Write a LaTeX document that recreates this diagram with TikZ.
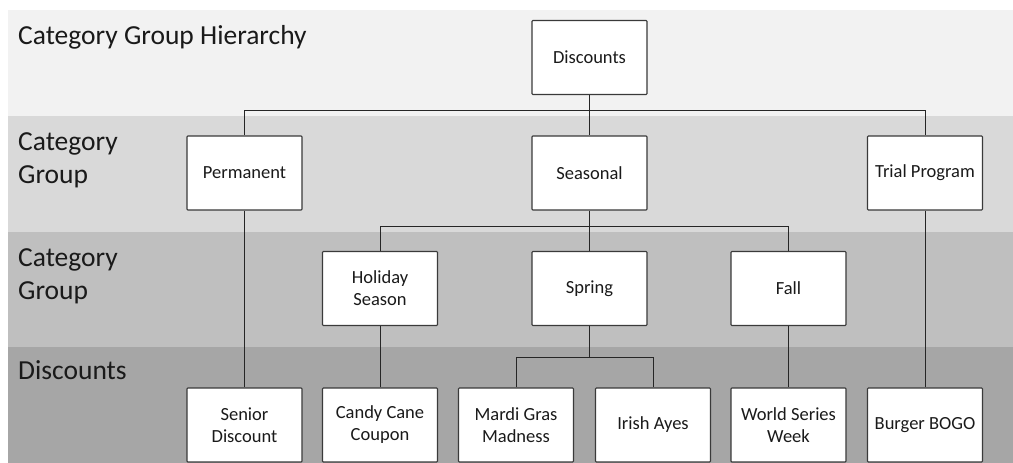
\documentclass[tikz,border=0pt]{standalone}
\usepackage{fontspec}
\setmainfont{Carlito}
\definecolor{bandA}{HTML}{F2F2F2}
\definecolor{bandB}{HTML}{D9D9D9}
\definecolor{bandC}{HTML}{BFBFBF}
\definecolor{bandD}{HTML}{A6A6A6}
\definecolor{ink}{HTML}{1A1A1A}
\definecolor{edge}{HTML}{3A3A3A}
\tikzset{
  item/.style={draw=edge, line width=1.1pt, fill=white, rounded corners=0.8pt,
    minimum width=115pt, minimum height=74pt, inner sep=2pt, align=center,
    text=ink, font=\fontsize{18.5}{22}\selectfont},
  bandlabel/.style={anchor=base west, inner sep=0pt, align=left, text=ink,
    font=\fontsize{27.5}{33}\selectfont},
  link/.style={draw=black!85, line width=1pt}
}
\begin{document}
\begin{tikzpicture}[x=1pt,y=-1pt]
\useasboundingbox (0,0) rectangle (1013,463);
% level bands
\fill[bandA] (8,10) rectangle (1013,116);
\fill[bandB] (8,116) rectangle (1013,232);
\fill[bandC] (8,232) rectangle (1013,347);
\fill[bandD] (8,347) rectangle (1013,463);
% band titles (base anchor of a two-line title sits on its last line)
\node[bandlabel] (t1) at (18,45) {Category Group Hierarchy};
\node[bandlabel] (t2) at (18,183) {Category\\Group};
\node[bandlabel] (t3) at (18,299) {Category\\Group};
\node[bandlabel] (t4) at (18,379) {Discounts};
% bus coordinates
\coordinate (bus1) at (589.5,110);
\coordinate (bus2) at (589.5,226);
\coordinate (bus3) at (589.5,357);
% boxes
\node[item] (disc) at (589.5,57.5) {Discounts};
\node[item] (perm) at (244.5,173) {Permanent};
\node[item] (seas) at (589.5,173) {Seasonal};
\node[item] (trial) at (925,173) {Trial Program};
\node[item] (hol) at (380,288.5) {Holiday\\Season};
\node[item] (spr) at (589.5,288.5) {Spring};
\node[item] (fall) at (788.5,288.5) {Fall};
\node[item] (sen) at (244.5,425) {Senior\\Discount};
\node[item] (candy) at (380,425) {Candy Cane\\Coupon};
\node[item] (mardi) at (516,425) {Mardi Gras\\Madness};
\node[item] (irish) at (653,425) {Irish Ayes};
\node[item] (world) at (788.5,425) {World Series\\Week};
\node[item] (burger) at (925,425) {Burger BOGO};
% tree links
\draw[link] (disc.south) -- (bus1);
\draw[link] (bus1) -| (perm.north);
\draw[link] (bus1) -| (trial.north);
\draw[link] (bus1) -- (seas.north);
\draw[link] (seas.south) -- (bus2);
\draw[link] (bus2) -| (hol.north);
\draw[link] (bus2) -| (fall.north);
\draw[link] (bus2) -- (spr.north);
\draw[link] (spr.south) -- (bus3);
\draw[link] (bus3) -| (mardi.north);
\draw[link] (bus3) -| (irish.north);
\draw[link] (perm.south) -- (sen.north);
\draw[link] (hol.south) -- (candy.north);
\draw[link] (fall.south) -- (world.north);
\draw[link] (trial.south) -- (burger.north);
\end{tikzpicture}
\end{document}
